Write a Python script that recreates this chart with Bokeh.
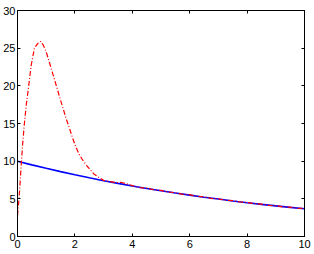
from bokeh.plotting import figure
from bokeh.models import LinearAxis, FixedTicker, Range1d
from bokeh.embed import file_html
from bokeh.resources import INLINE

# Blue curve (smooth decay)
blue_x = [0, 0.5, 1, 1.5, 2, 2.5, 3, 3.5, 4, 4.5, 5, 5.5, 6, 6.5, 7, 7.5, 8, 8.5, 9, 9.5, 10]
blue_y = [10.0, 9.51, 9.05, 8.61, 8.19, 7.79, 7.41, 7.05, 6.70, 6.38, 6.07, 5.77,
          5.49, 5.22, 4.97, 4.72, 4.49, 4.27, 4.07, 3.87, 3.68]

# Red dash-dot curve (peak then follows blue, slightly noisy)
red_x = [0, 0.04, 0.08, 0.13, 0.18, 0.24, 0.31, 0.39, 0.48, 0.59, 0.7, 0.8, 0.9,
         1.0, 1.12, 1.3, 1.5, 1.7, 1.8, 1.9, 2.02, 2.15, 2.31, 2.5, 2.66, 2.85,
         3.0, 3.2, 3.47, 3.6, 3.8,
         4.0, 4.25, 4.5, 4.75, 5.0, 5.25, 5.5, 5.75, 6.0, 6.25, 6.5, 6.75, 7.0,
         7.25, 7.5, 7.75, 8.0, 8.25, 8.5, 8.75, 9.0, 9.25, 9.5, 9.75, 10.0]
red_y = [2.8, 4.4, 6.5, 9.5, 12.3, 15.0, 17.6, 20.0, 22.8, 25.0, 25.6, 25.9, 25.4,
         24.5, 23.0, 20.7, 18.1, 15.6, 14.5, 13.3, 12.0, 10.9, 9.9, 9.0, 8.3, 7.8,
         7.45, 7.3, 7.15, 7.2, 7.0,
         6.75, 6.5, 6.45, 6.2, 6.12, 5.9, 5.82, 5.6, 5.55, 5.33, 5.27, 5.05, 5.0,
         4.82, 4.76, 4.58, 4.52, 4.36, 4.3, 4.14, 4.1, 3.93, 3.9, 3.75, 3.72]

x_ticks = [0, 2, 4, 6, 8, 10]
y_ticks = [0, 5, 10, 15, 20, 25, 30]

FONT = "Liberation Sans"
FS = "11px"

p = figure(width=314, height=254, output_backend="svg", toolbar_location=None,
           x_range=Range1d(0, 10), y_range=Range1d(0, 30),
           min_border_left=17, min_border_right=10, min_border_top=10,
           min_border_bottom=18)
p.grid.visible = False
p.outline_line_color = "black"
p.outline_line_width = 1
p.background_fill_color = "white"
p.border_fill_color = "white"

for ax in (p.xaxis[0], p.yaxis[0]):
    ax.major_tick_in = 3
    ax.major_tick_out = 0
    ax.minor_tick_line_color = None
    ax.axis_line_color = "black"
    ax.major_tick_line_color = "black"
    ax.major_label_text_font = FONT
    ax.major_label_text_font_size = FS
    ax.major_label_text_color = "black"
p.xaxis[0].ticker = FixedTicker(ticks=x_ticks)
p.yaxis[0].ticker = FixedTicker(ticks=y_ticks)
p.xaxis[0].major_label_standoff = 3
p.yaxis[0].major_label_standoff = 2

top = LinearAxis(ticker=FixedTicker(ticks=x_ticks),
                 major_label_overrides={t: "" for t in x_ticks})
right = LinearAxis(ticker=FixedTicker(ticks=y_ticks),
                   major_label_overrides={t: "" for t in y_ticks})
for ax in (top, right):
    ax.major_tick_in = 3
    ax.major_tick_out = 0
    ax.minor_tick_line_color = None
    ax.major_label_standoff = 0
    ax.major_label_text_font_size = "1px"
    ax.axis_line_color = "black"
    ax.major_tick_line_color = "black"
p.add_layout(top, "above")
p.add_layout(right, "right")

p.line(blue_x, blue_y, line_color="#0000ff", line_width=1.6)
p.line(red_x, red_y, line_color="#ff0000", line_width=1.2, line_dash="5 2 1 2")

open("out.html", "w").write(file_html(p, INLINE))
